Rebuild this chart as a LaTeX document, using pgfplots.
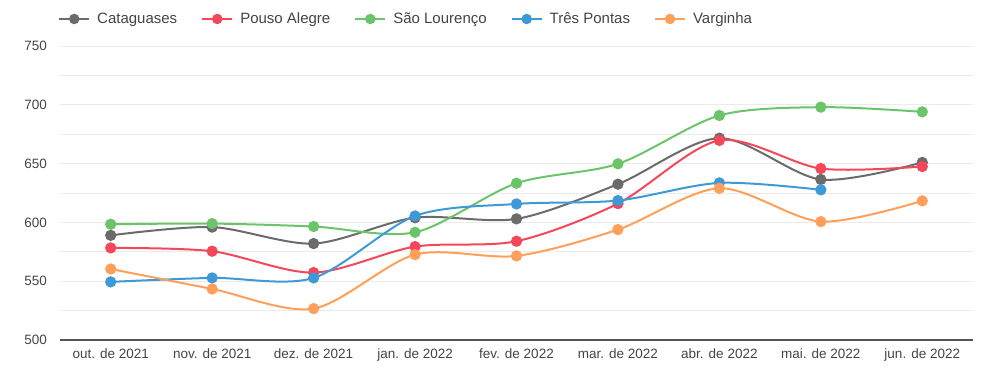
\documentclass[border=0pt]{standalone}
\usepackage{fontspec}
\setmainfont{Liberation Sans}
\usepackage{pgfplots}
\pgfplotsset{compat=1.18}
\definecolor{cCat}{HTML}{6B6B6B}
\definecolor{cPou}{HTML}{F5475C}
\definecolor{cSao}{HTML}{6CC46A}
\definecolor{cTre}{HTML}{3E9AD6}
\definecolor{cVar}{HTML}{FF9F5A}
\definecolor{gridc}{HTML}{EBEBEB}
\definecolor{axc}{HTML}{555555}
\definecolor{txt}{HTML}{444444}
\begin{document}
\begin{tikzpicture}
\useasboundingbox (0,0) rectangle (1000bp,383bp);
\begin{axis}[
  at={(60bp,43bp)}, anchor=south west,
  scale only axis, width=913bp, height=294bp,
  xmin=-0.5, xmax=8.5, ymin=500, ymax=750,
  xtick={0,...,8},
  xticklabels={out. de 2021, nov. de 2021, dez. de 2021, jan. de 2022, fev. de 2022, mar. de 2022, abr. de 2022, mai. de 2022, jun. de 2022},
  ytick={500,550,...,750},
  minor ytick={525,575,...,725},
  ymajorgrids, yminorgrids,
  major grid style={draw=gridc, line width=0.9bp},
  minor grid style={draw=gridc, line width=0.9bp},
  axis x line*=bottom, axis y line*=left,
  x axis line style={draw=axc, line width=1.8bp, -},
  y axis line style={draw=none},
  major tick length=0pt, minor tick length=0pt,
  tick style={draw=none},
  /pgf/number format/assume math mode=true,
  tick label style={font=\fontsize{13.5bp}{16bp}\selectfont, color=txt, inner sep=0pt},
  yticklabel shift=13bp,
  xticklabel shift=9bp,
  every axis plot/.append style={line width=2bp, smooth, tension=0.5, mark=*, mark size=4.6bp, mark options={solid}},
  legend columns=-1,
  legend style={at={(rel axis cs:0,1)}, anchor=west, yshift=27bp, xshift=-2bp,
    draw=none, fill=none, inner sep=0pt,
    font=\fontsize{15bp}{18bp}\selectfont, text=txt,
    nodes={inner sep=2bp},
    /tikz/every even column/.append style={column sep=22bp}},
  legend image code/.code={\draw[mark repeat=2,mark phase=2, mark size=4.2bp] plot coordinates {(0bp,0bp)(15bp,0bp)(30bp,0bp)}; \path (35bp,0bp);},
]
\addplot[color=cCat] coordinates {(0,589) (1,596) (2,582) (3,604) (4,603) (5,632.5) (6,671.6) (7,636.5) (8,651)};
\addlegendentry{Cataguases}
\addplot[color=cPou] coordinates {(0,578.3) (1,575.5) (2,557.3) (3,579.4) (4,584) (5,616) (6,669.7) (7,645.8) (8,647.5)};
\addlegendentry{Pouso Alegre}
\addplot[color=cSao] coordinates {(0,598.4) (1,599) (2,596.5) (3,591.6) (4,633.3) (5,649.8) (6,690.9) (7,698) (8,694)};
\addlegendentry{São Lourenço}
\addplot[color=cTre] coordinates {(0,549.4) (1,552.8) (2,552.8) (3,605.5) (4,615.7) (5,618.6) (6,633.6) (7,627.7)};
\addlegendentry{Três Pontas}
\addplot[color=cVar] coordinates {(0,560.4) (1,543.4) (2,526.7) (3,572.6) (4,571.5) (5,593.9) (6,629) (7,600.7) (8,618.3)};
\addlegendentry{Varginha}
\end{axis}
\end{tikzpicture}
\end{document}
